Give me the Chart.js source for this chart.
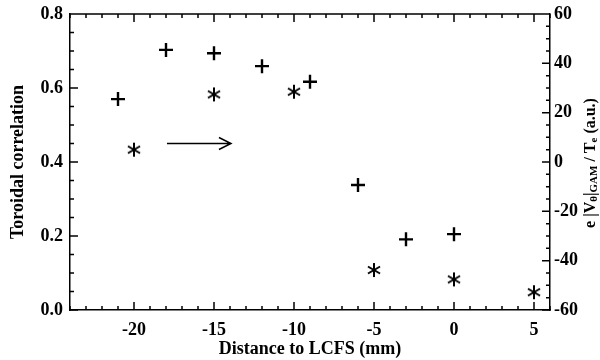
<!DOCTYPE html>
<html>
<head>
<meta charset="utf-8">
<script src="https://cdn.jsdelivr.net/npm/chart.js@4"></script>
<style>
  body { margin: 0; background: #fff; }
  #wrap { width: 600px; height: 360px; }
</style>
</head>
<body>
<div id="wrap"><canvas id="myChart"></canvas></div>
<script>
// toroidal correlation (plus marks, left axis)
const corrX = [-21, -18, -15, -12, -9, -6, -3, 0];
const corrY = [0.57, 0.703, 0.694, 0.659, 0.617, 0.338, 0.191, 0.205];
// e|V|GAM/Te (asterisks, right axis)
const gamX = [-20, -15, -10, -5, 0, 5];
const gamY = [5, 27.4, 28.5, -43.8, -47.6, -52.8];
const xTicks = [-20, -15, -10, -5, 0, 5];
const arrowFrom = [-17.94, 0.45];
const arrowTo = [-13.94, 0.45];

const ctx = document.getElementById('myChart');
const font = { family: 'Liberation Serif', weight: 'bold', size: 18 };
const titleFont = { family: 'Liberation Serif', weight: 'bold', size: 18 };

// six-armed asterisk marker
function makeStar() {
  const c = document.createElement('canvas');
  c.width = 18; c.height = 18;
  const g = c.getContext('2d');
  g.strokeStyle = '#000';
  g.lineWidth = 2;
  [90, 30, 150].forEach(function(deg){
    const r = deg * Math.PI / 180;
    g.beginPath();
    g.moveTo(9 - 7 * Math.cos(r), 9 - 7 * Math.sin(r));
    g.lineTo(9 + 7 * Math.cos(r), 9 + 7 * Math.sin(r));
    g.stroke();
  });
  return c;
}

const extras = {
  id: 'extras',
  afterDraw(chart) {
    const c = chart.ctx;
    const a = chart.chartArea;
    const x = chart.scales.x, y = chart.scales.y, y2 = chart.scales.y2;
    c.save();
    c.strokeStyle = '#000';
    c.lineWidth = 1.5;
    c.beginPath();
    c.moveTo(a.left, a.top); c.lineTo(a.right, a.top);
    // x ticks, bottom and top
    for (let v = -24; v <= 6; v++) {
      const px = x.getPixelForValue(v);
      const len = v % 5 === 0 ? 8 : 4;
      c.moveTo(px, a.bottom); c.lineTo(px, a.bottom - len);
      c.moveTo(px, a.top); c.lineTo(px, a.top + len);
    }
    // left ticks
    for (let i = 0; i <= 16; i++) {
      const py = y.getPixelForValue(i * 0.05);
      const len = i % 4 === 0 ? 8 : 4;
      c.moveTo(a.left, py); c.lineTo(a.left + len, py);
    }
    // right ticks
    for (let i = 0; i <= 24; i++) {
      const py = y2.getPixelForValue(-60 + i * 5);
      const len = i % 4 === 0 ? 8 : 4;
      c.moveTo(a.right, py); c.lineTo(a.right - len, py);
    }
    c.stroke();

    // arrow
    const x0 = x.getPixelForValue(arrowFrom[0]), yA = y.getPixelForValue(arrowFrom[1]);
    const x1 = x.getPixelForValue(arrowTo[0]);
    c.beginPath();
    c.lineWidth = 1.5;
    c.moveTo(x0, yA); c.lineTo(x1, yA);
    c.moveTo(x1 - 12, yA - 6); c.lineTo(x1, yA); c.lineTo(x1 - 12, yA + 6);
    c.stroke();

    // right axis title with subscripts
    const parts = [
      ['e |V', 16, 0], ['θ', 11, 3], ['|', 16, 0], ['GAM', 11, 3],
      [' / T', 16, 0], ['e', 11, 3], [' (a.u.)', 16, 0]
    ];
    let total = 0;
    parts.forEach(function(p){
      c.font = 'bold ' + p[1] + 'px "Liberation Serif"';
      total += c.measureText(p[0]).width;
    });
    c.translate(591, 163);
    c.rotate(-Math.PI / 2);
    c.fillStyle = '#000';
    c.textBaseline = 'middle';
    let pos = -total / 2;
    parts.forEach(function(p){
      c.font = 'bold ' + p[1] + 'px "Liberation Serif"';
      c.fillText(p[0], pos, p[2]);
      pos += c.measureText(p[0]).width;
    });
    c.restore();
  }
};

function fixY(width) {
  return s => { s.width = width; s.paddingTop = 0; s.paddingBottom = 0; };
}

new Chart(ctx, {
  type: 'scatter',
  data: {
    datasets: [{
      label: 'Toroidal correlation',
      data: corrX.map((v, i) => ({ x: v, y: corrY[i] })),
      yAxisID: 'y',
      pointStyle: 'cross',
      pointRadius: 7,
      pointBorderWidth: 2.4,
      borderColor: '#000',
      backgroundColor: '#000'
    }, {
      label: 'GAM velocity',
      data: gamX.map((v, i) => ({ x: v, y: gamY[i] })),
      yAxisID: 'y2',
      pointStyle: makeStar(),
      borderColor: '#000',
      backgroundColor: '#000'
    }]
  },
  options: {
    responsive: true,
    maintainAspectRatio: false,
    animation: false,
    layout: { padding: { top: 14 } },
    plugins: { legend: { display: false }, tooltip: { enabled: false } },
    scales: {
      x: {
        type: 'linear',
        min: -24, max: 6,
        afterBuildTicks: s => { s.ticks = xTicks.map(v => ({ value: v })); },
        afterFit: s => { s.height = 50; s.paddingLeft = 0; s.paddingRight = 0; },
        grid: { display: false, drawTicks: false },
        border: { color: '#000', width: 1.5 },
        ticks: { color: '#000', font: font, padding: 10 },
        title: { display: true, text: 'Distance to LCFS (mm)', color: '#000',
                 font: titleFont, padding: { top: 0, bottom: 0 } }
      },
      y: {
        position: 'left',
        min: 0, max: 0.8,
        ticks: { stepSize: 0.2, color: '#000', font: font, padding: 7,
                 callback: v => v.toFixed(1) },
        afterFit: fixY(70),
        grid: { display: false, drawTicks: false },
        border: { color: '#000', width: 1.5 },
        title: { display: true, text: 'Toroidal correlation', color: '#000',
                 font: titleFont, padding: { top: 8, bottom: 0 } }
      },
      y2: {
        position: 'right',
        min: -60, max: 60,
        ticks: { stepSize: 20, color: '#000', font: font, padding: 4 },
        afterFit: fixY(50),
        grid: { display: false, drawTicks: false },
        border: { color: '#000', width: 1.5 }
      }
    }
  },
  plugins: [extras]
});
</script>
</body>
</html>
